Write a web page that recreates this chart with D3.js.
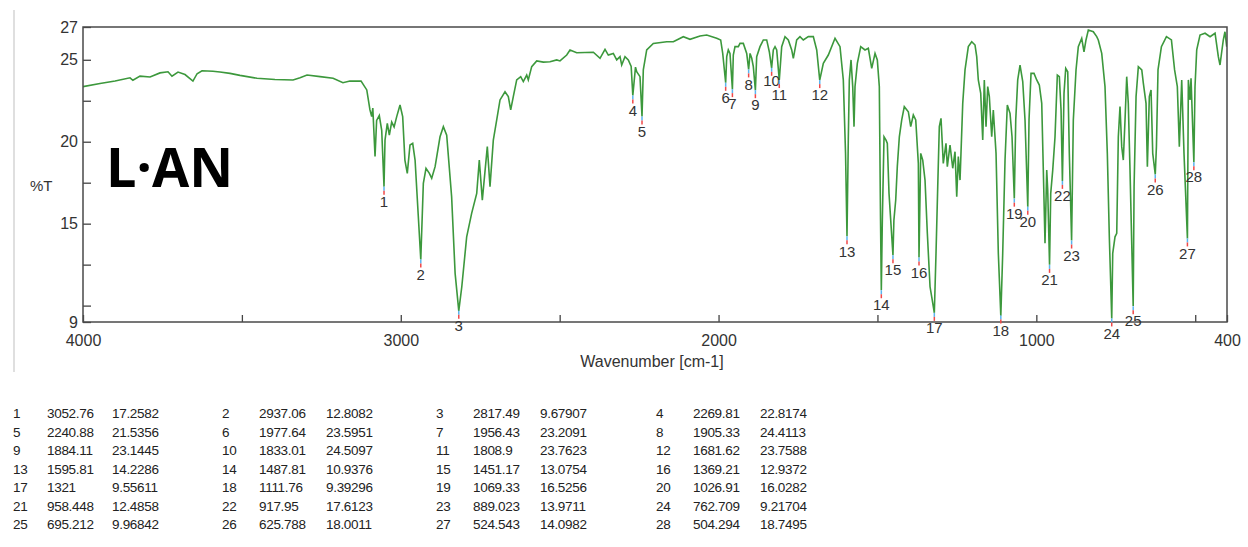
<!DOCTYPE html>
<html>
<head>
<meta charset="utf-8">
<script src="https://cdn.jsdelivr.net/npm/d3@7"></script>
<style>
  body { margin: 0; background: #fff; }
  text { font-family: "Liberation Sans", Arial, sans-serif; }
</style>
</head>
<body>
<div id="chart"></div>
<script>
// spectrum (wavenumber cm-1, %T)
var wavenumber = [4000, 3946.5, 3899, 3852, 3843, 3820.6, 3789, 3757.7, 3732.5, 3720, 3701, 3679, 3654, 3641, 3625.5, 3591, 3569, 3537.4, 3506, 3452.4, 3396, 3339, 3317, 3295, 3254, 3213, 3182, 3160, 3125,
  3107, 3097, 3091.5, 3088, 3081, 3076, 3067.6, 3060, 3052.76, 3049.6, 3042.4, 3036, 3028.6, 3021, 3012.8, 3002.4, 2994, 2987, 2979.5, 2971, 2962.5, 2955, 2945, 2937.06,
  2929, 2920.6, 2910, 2902.7, 2892, 2876.5, 2866, 2855.5, 2840, 2829, 2817.49, 2808, 2792.6, 2777, 2761, 2752.9, 2743.4, 2727.7, 2719.2, 2708.8, 2698.1, 2687.7,
  2672, 2661.6, 2654.1, 2645.9, 2635.2, 2622.6, 2614.4, 2603.7, 2598.7, 2588, 2572.2, 2551.5, 2530.4, 2509.3, 2499, 2477.8, 2467.5, 2446.4, 2394, 2373, 2357.3,
  2346.9, 2331.2, 2320.5, 2310.1, 2304.8, 2294.4, 2284, 2275, 2269.81, 2261.4, 2257.6, 2247.2, 2240.88, 2236.8, 2226.1, 2205.3, 2163.1, 2142.3, 2110.9, 2089.8,
  2058.4, 2037.3, 2005.8, 1993.3, 1986.9, 1977.64, 1974.3, 1969.3, 1964, 1956.43, 1953.6, 1948.2, 1937.8, 1932.5, 1922.1, 1911.4, 1905.33, 1900.9, 1895.6, 1890.6,
  1884.11, 1880, 1869.6, 1859.1, 1848.5, 1840.3, 1833.01, 1827.7, 1822.3, 1817, 1808.9, 1801.3, 1790.9, 1780.5, 1769.8, 1764.7, 1754.1, 1743.7, 1733.3, 1717.5,
  1701.8, 1691.1, 1681.62, 1670.3, 1654.6, 1633.5, 1617.8, 1607.4, 1600.4, 1595.81, 1591.6, 1588.5, 1583.1, 1577.8, 1573.7, 1570.6, 1563.3, 1552.6, 1539.1, 1528.7,
  1518, 1507.6, 1500.4, 1494.1, 1490.3, 1487.81, 1484.6, 1479.3, 1473, 1468.9, 1463.6, 1451.17, 1448.2, 1442.5, 1437.5, 1431.1, 1423.6, 1415.5, 1402.8, 1395.3,
  1387.1, 1379.5, 1371.3, 1369.21, 1363.8, 1357.5, 1350.3, 1343, 1334.5, 1329.2, 1321, 1315.7, 1310.3, 1305.3, 1300, 1292.8, 1284.3, 1280.1, 1271.6, 1263.1,
  1255.9, 1250.5, 1245.5, 1240.1, 1231.6, 1224.4, 1214, 1203.3, 1192.9, 1187.6, 1182.6, 1175, 1168.7, 1163.7, 1158.3, 1153, 1147.9, 1140.4, 1135.4, 1126.8,
  1119.6, 1111.76, 1105.8, 1098.5, 1091.3, 1082.8, 1076.5, 1069.33, 1064.8, 1058.6, 1051.3, 1042.8, 1035.6, 1026.91, 1023, 1016.7, 1007.3, 998.8, 990.6, 983,
  978, 972.7, 967.3, 964.2, 958.448, 954.7, 948.4, 941.2, 933.9, 927.6, 922.2, 917.95, 912.9, 907.5, 901.2, 896.2, 889.023, 883.6, 875.1, 867.9,
  857.2, 850, 843.7, 836.4, 820.7, 810, 805, 794.2, 783.9, 776.6, 770.3, 762.709, 759.6, 752.4, 747, 742, 736.7, 731.3, 726.3, 720.9,
  715.6, 710.6, 705.2, 695.212, 692.4, 686.2, 679, 668.2, 663.2, 654.8, 650.6, 644.4, 639, 633.7, 625.788, 622.1, 617.1, 606.4, 590.6, 574.9,
  564.9, 556.3, 550, 542.5, 535.3, 524.543, 521.6, 516.4, 513.2, 504.294, 500.7, 495.3, 484.9, 469.1, 453.3, 437.6, 427.3, 422, 416.6, 411.6, 406.4, 401];

var transmittance = [23.36, 23.55, 23.7, 23.9, 23.75, 24.0, 23.95, 24.2, 24.27, 24.0, 24.25, 24.1, 23.7, 24.15, 24.33, 24.3, 24.25, 24.17, 24.05, 23.87, 23.8, 23.77, 23.9, 24.07, 23.97, 23.87, 23.6, 23.7, 23.7,
  23.16, 21.94, 21.53, 22.05, 19.1, 21.3, 21.6, 20.7, 17.26, 20.1, 21.12, 20.4, 21.2, 20.9, 21.53, 22.24, 21.53, 18.88, 18.07, 19.8, 19.9, 18.88, 15.5, 12.81,
  17.46, 18.38, 18.07, 17.77, 18.48, 20.3, 20.92, 20.4, 16.65, 11.97, 9.68, 11.15, 14.2, 15.63, 16.85, 18.88, 16.44, 19.7, 17.26, 20.1, 21.33, 22.55,
  23.05, 22.75, 21.94, 22.75, 23.77, 23.97, 23.67, 24.07, 23.77, 24.58, 24.93, 24.86, 24.88, 24.99, 24.93, 25.29, 25.6, 25.43, 25.46, 25.09, 25.64,
  25.29, 25.39, 24.99, 25.19, 24.68, 25.19, 24.99, 24.6, 22.82, 24.55, 24.27, 23.97, 21.54, 24.38, 25.6, 26.0, 26.1, 26.1, 26.41, 26.25,
  26.45, 26.51, 26.31, 26.21, 25.39, 23.6, 25.19, 25.6, 25.39, 23.21, 25.29, 25.8, 25.8, 26.0, 26.0, 25.39, 24.41, 25.39, 25.09, 24.58,
  23.14, 25.19, 25.8, 26.21, 26.21, 25.49, 24.51, 25.6, 25.8, 25.6, 23.76, 25.8, 26.41, 26.21, 25.6, 25.09, 26.21, 26.41, 26.21, 26.41,
  26.41, 25.6, 23.76, 24.78, 25.29, 26.31, 25.8, 23.77, 19.3, 14.23, 20.3, 23.77, 24.99, 23.36, 20.92, 23.36, 24.78, 25.8, 25.6, 25.7,
  24.48, 25.39, 24.99, 23.36, 15.22, 10.94, 15.22, 20.3, 20.1, 19.9, 16.85, 13.08, 15.22, 16.44, 18.48, 20.3, 21.33, 22.14, 21.83, 20.92,
  21.63, 21.33, 18.68, 12.94, 19.29, 18.88, 17.66, 14.41, 11.15, 10.54, 9.56, 13.19, 17.26, 20.92, 21.43, 18.68, 19.9, 18.48, 19.8, 18.38,
  19.39, 16.65, 19.09, 17.66, 22.34, 24.38, 25.8, 26.1, 25.9, 25.19, 23.77, 22.95, 20.1, 23.77, 20.92, 23.36, 22.75, 20.3, 21.94, 19.29,
  13.19, 9.39, 13.19, 18.88, 22.24, 21.73, 20.3, 16.53, 21.33, 23.77, 24.68, 23.67, 21.33, 16.03, 21.33, 24.17, 24.17, 23.77, 23.46, 22.34,
  18.27, 13.8, 18.27, 17.05, 12.49, 16.85, 18.27, 20.3, 24.07, 23.97, 21.94, 17.61, 22.95, 24.48, 24.27, 19.29, 13.97, 21.33, 24.38, 25.8,
  26.31, 25.49, 26.21, 26.82, 26.71, 26.41, 26.21, 25.39, 23.36, 19.29, 14.2, 9.22, 13.19, 14.2, 14.41, 20.3, 22.14, 19.7, 18.88, 21.33,
  23.97, 22.34, 18.27, 9.97, 17.26, 22.75, 24.58, 24.38, 23.56, 22.34, 18.48, 22.75, 23.16, 19.29, 18.0, 19.7, 24.38, 25.8, 26.41, 26.21,
  24.38, 23.36, 19.7, 23.77, 19.29, 14.1, 23.77, 22.55, 23.87, 18.75, 23.36, 25.6, 26.51, 26.62, 26.41, 26.62, 25.19, 24.68, 25.49, 26.21, 26.71, 25.8];

// peak table
var peakNo = d3.range(1, 29);
var peakWn = [3052.76, 2937.06, 2817.49, 2269.81, 2240.88, 1977.64, 1956.43, 1905.33, 1884.11, 1833.01, 1808.9, 1681.62, 1595.81, 1487.81,
  1451.17, 1369.21, 1321, 1111.76, 1069.33, 1026.91, 958.448, 917.95, 889.023, 762.709, 695.212, 625.788, 524.543, 504.294];
var peakT = [17.2582, 12.8082, 9.67907, 22.8174, 21.5356, 23.5951, 23.2091, 24.4113, 23.1445, 24.5097, 23.7623, 23.7588, 14.2286, 10.9376,
  13.0754, 12.9372, 9.55611, 9.39296, 16.5256, 16.0282, 12.4858, 17.6123, 13.9711, 9.21704, 9.96842, 18.0011, 14.0982, 18.7495];

var xTicks = [4000, 3500, 3000, 2500, 2000, 1500, 1000, 500, 400];
var xLabels = [4000, 3000, 2000, 1000, 400];
var yTicks = [27, 25, 22.5, 20, 17.5, 15, 12.5, 10, 9];
var yLabels = [27, 25, 20, 15, 9];

var svgWidth = 1248;
var svgHeight = 547;
var plot = { left: 83, top: 27, width: 1144, height: 295 };

var svg = d3.select("#chart")
  .append("svg")
  .attr("width", svgWidth)
  .attr("height", svgHeight);

var x = d3.scaleLinear().domain([4000, 400]).range([0, plot.width]);
var y = d3.scaleLinear().domain([9, 27]).range([plot.height, 0]);

// faint border line on the left of the screenshot
svg.append("line")
  .attr("x1", 14).attr("x2", 14).attr("y1", 10).attr("y2", 372)
  .attr("stroke", "#d4d4d4").attr("stroke-width", 1.5);

var g = svg.append("g")
  .attr("transform", `translate(${plot.left}, ${plot.top})`);

g.append("clipPath").attr("id", "clip")
  .append("rect").attr("width", plot.width).attr("height", plot.height + 1);

var points = d3.zip(wavenumber, transmittance);
var line = d3.line().x(d => x(d[0])).y(d => y(d[1]));

g.append("path")
  .datum(points)
  .attr("clip-path", "url(#clip)")
  .attr("fill", "none")
  .attr("stroke", "#3c983c")
  .attr("stroke-width", 1.6)
  .attr("d", line);

// axes
var bottomAxis = d3.axisBottom(x)
  .tickValues(xTicks)
  .tickSizeInner(-7)
  .tickSizeOuter(0)
  .tickPadding(13)
  .tickFormat(d => xLabels.includes(d) ? d : "");

var leftAxis = d3.axisLeft(y)
  .tickValues(yTicks)
  .tickSizeInner(-8)
  .tickSizeOuter(0)
  .tickPadding(5)
  .tickFormat(d => yLabels.includes(d) ? d : "");

var xa = g.append("g")
  .attr("transform", `translate(0, ${plot.height})`)
  .call(bottomAxis);
var ya = g.append("g").call(leftAxis);

[xa, ya].forEach(function(a) {
  a.select(".domain").remove();
  a.selectAll(".tick line").attr("stroke", "#444").attr("stroke-width", 1.3);
  a.selectAll(".tick text")
    .attr("fill", "#333")
    .style("font-size", "16px")
    .style("font-family", "'Liberation Sans', Arial, sans-serif");
});

g.append("rect")
  .attr("width", plot.width)
  .attr("height", plot.height)
  .attr("fill", "none")
  .attr("stroke", "#4a4a4a")
  .attr("stroke-width", 1.5);

// peak markers
var peaks = g.append("g");
peakNo.forEach(function(n, i) {
  var px = x(peakWn[i]);
  var py = y(peakT[i]);
  peaks.append("line")
    .attr("x1", px).attr("x2", px).attr("y1", py).attr("y2", py + 4)
    .attr("stroke", "#5ab4f0").attr("stroke-width", 1.5);
  peaks.append("line")
    .attr("x1", px).attr("x2", px).attr("y1", py + 4).attr("y2", py + 8)
    .attr("stroke", "#f04848").attr("stroke-width", 1.5);
  peaks.append("text")
    .attr("x", px)
    .attr("y", py + (n === 10 ? 13 : 15))
    .attr("dy", "0.35em")
    .attr("text-anchor", "middle")
    .attr("fill", "#333")
    .style("font-size", "15px")
    .text(n);
});

// labels
svg.append("text")
  .attr("x", 30)
  .attr("y", 191)
  .attr("fill", "#333")
  .style("font-size", "15px")
  .text("%T");

svg.append("text")
  .attr("x", 652)
  .attr("y", 367)
  .attr("text-anchor", "middle")
  .attr("fill", "#333")
  .style("font-size", "16px")
  .text("Wavenumber [cm-1]");

svg.append("text")
  .attr("x", 106)
  .attr("y", 187)
  .attr("fill", "#000")
  .style("font-family", "'Open Sans', sans-serif")
  .style("font-weight", "bold")
  .style("font-size", "54px")
  .text("L·AN");

// peak table, 4 peaks per row
var colX = [13, 222, 436, 656];
var table = svg.append("g")
  .style("font-size", "13.5px")
  .style("letter-spacing", "-0.3px")
  .attr("fill", "#222");
peakNo.forEach(function(n, i) {
  var row = Math.floor(i / 4);
  var col = i % 4;
  var ty = 418 + row * 18.5;
  table.append("text").attr("x", colX[col]).attr("y", ty).text(n);
  table.append("text").attr("x", colX[col] + (col === 0 ? 34 : 37)).attr("y", ty).text(String(peakWn[i]));
  table.append("text").attr("x", colX[col] + (col === 0 ? 99 : 104)).attr("y", ty).text(String(peakT[i]));
});
</script>
</body>
</html>
